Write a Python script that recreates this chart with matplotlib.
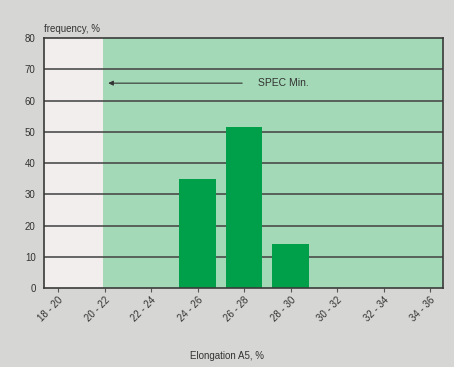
import matplotlib
matplotlib.use("Agg")
import matplotlib.pyplot as plt
import numpy as np

categories = ["18 - 20", "20 - 22", "22 - 24", "24 - 26", "26 - 28", "28 - 30", "30 - 32", "32 - 34", "34 - 36"]
frequency = [0, 0, 0, 35, 51.5, 14, 0, 0, 0]
yticks = [0, 10, 20, 30, 40, 50, 60, 70, 80]
spec_min_index = 1  # SPEC Min. at the 20-22 class
spec_label = "SPEC Min."

plt.rcParams['font.family'] = ['Liberation Sans', 'DejaVu Sans']

fig = plt.figure(figsize=(4.54, 3.67), dpi=100)
fig.patch.set_facecolor("#d6d6d4")
ax = fig.add_axes([0.097, 0.215, 0.879, 0.681])
ax.set_facecolor("#f3eeee")

x = np.arange(len(categories))
ax.set_xlim(-0.3, 8.28)
ax.set_ylim(0, 80)

ax.axvspan(spec_min_index - 0.04, 8.28, color="#a3d9b6", zorder=0, lw=0)
for yv in yticks[1:-1]:
    ax.axhline(yv, color="#404040", lw=1.1, zorder=1)

ax.bar(x, frequency, width=0.78, color="#00a04a", zorder=2)

ax.annotate("", xy=(spec_min_index + 0.02, 65.6), xytext=(4.02, 65.6),
            arrowprops=dict(arrowstyle="-|>", color="#333333", lw=0.8,
                            mutation_scale=7), zorder=3)
ax.text(4.3, 65.6, spec_label, fontsize=7.5, color="#333333", va="center", ha="left")

ax.set_xticks(x)
ax.set_xticklabels(categories, rotation=45, ha="right", rotation_mode="anchor", fontsize=7, color="#333333")
ax.set_yticks(yticks)
ax.set_yticklabels([str(v) for v in yticks], fontsize=7, color="#333333")
ax.tick_params(axis="x", length=3, color="#555555", pad=2)
ax.tick_params(axis="y", length=0, pad=6)
for s in ax.spines.values():
    s.set_color("#3a3a3a")
    s.set_linewidth(1.2)

ax.text(0.0, 1.015, "frequency, %", transform=ax.transAxes, fontsize=7, color="#333333", ha="left", va="bottom")
fig.text(0.5, 0.03, "Elongation A5, %", fontsize=7, color="#333333", ha="center", va="center")

fig.savefig("out.png", dpi=100, facecolor=fig.get_facecolor())
